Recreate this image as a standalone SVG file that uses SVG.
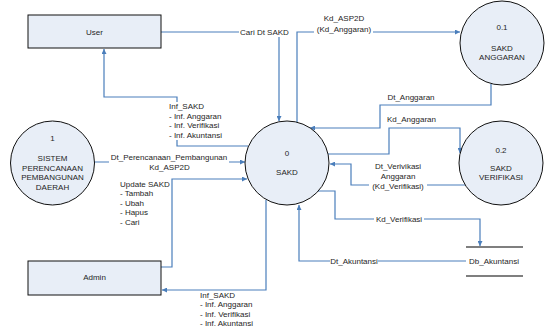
<svg xmlns="http://www.w3.org/2000/svg" width="552" height="327" viewBox="0 0 552 327">
<style>
text{font-family:"Liberation Sans",Arial,sans-serif;font-size:8px;fill:#1e1e1e}
.c{text-anchor:middle}
.node{fill:#e8eef7;stroke:#111;stroke-width:1}
.conn{fill:none;stroke:#4a7ebb;stroke-width:1.2;marker-end:url(#arr)}
.bg{fill:#fff}
.store{stroke:#555;stroke-width:1.5}
</style>
<defs>
<marker id="arr" viewBox="0 0 10 10" refX="10" refY="5" markerWidth="5" markerHeight="5" markerUnits="userSpaceOnUse" orient="auto">
<path d="M0,0 L10,5 L0,10 z" fill="#4a7ebb"/>
</marker>
</defs>
<rect width="552" height="327" fill="#fff"/>
<g id="connectors">
<path class="conn" d="M161,32 H279 V121"/>
<path class="conn" d="M297,122 V32 H460"/>
<path class="conn" d="M491,84 V105 H380 V128 H310"/>
<path class="conn" d="M328,154 H389 V128 H460 V153"/>
<path class="conn" d="M465,185 H351 V164 H330"/>
<path class="conn" d="M318,191 H335 V219 H480 V246"/>
<path class="conn" d="M466,261 H299 V205"/>
<path class="conn" d="M248,146 H177 V97 H104 V49"/>
<path class="conn" d="M94,162 H245"/>
<path class="conn" d="M161,267 H172 V179 H247"/>
<path class="conn" d="M266,200 V290 H162"/>
<g id="labels">
<rect class="bg" x="239" y="28" width="52" height="9"/>
<text x="240" y="35">Cari Dt SAKD</text>
<rect class="bg" x="314" y="13" width="59" height="21"/>
<text class="c" x="344" y="21">Kd_ASP2D</text>
<text class="c" x="344" y="32">(Kd_Anggaran)</text>
<text class="c" x="411" y="100">Dt_Anggaran</text>
<text class="c" x="411.5" y="122">Kd_Anggaran</text>
<rect class="bg" x="369" y="161" width="58" height="29"/>
<text class="c" x="398" y="169">Dt_Verivikasi</text>
<text class="c" x="398" y="179">Anggaran</text>
<text class="c" x="398" y="189">(Kd_Verifikasi)</text>
<rect class="bg" x="374" y="215" width="50" height="9"/>
<text class="c" x="399" y="222">Kd_Verifikasi</text>
<rect class="bg" x="330" y="257" width="48" height="9"/>
<text class="c" x="354" y="264">Dt_Akuntansi</text>
<rect class="bg" x="168" y="102" width="56" height="38"/>
<text x="169" y="109">Inf_SAKD</text>
<text x="169" y="118.5">- Inf. Anggaran</text>
<text x="169" y="128">- Inf. Verifikasi</text>
<text x="169" y="137.5">- Inf. Akuntansi</text>
<rect class="bg" x="109" y="152" width="120" height="19"/>
<text class="c" x="169" y="160">Dt_Perencanaan_Pembangunan</text>
<text class="c" x="169.5" y="170">Kd_ASP2D</text>
<text x="120" y="186.5">Update SAKD</text>
<text x="120" y="196">- Tambah</text>
<text x="120" y="205.5">- Ubah</text>
<text x="120" y="215">- Hapus</text>
<text x="120" y="224.5">- Cari</text>
<text x="200" y="298">Inf_SAKD</text>
<text x="200" y="307.3">- Inf. Anggaran</text>
<text x="200" y="316.6">- Inf. Verifikasi</text>
<text x="200" y="325.9">- Inf. Akuntansi</text>
</g>
</g>
<g id="user">
<rect class="node" x="28" y="15" width="133" height="33"/>
<text class="c" x="94.5" y="34.5">User</text>
</g>
<g id="admin">
<rect class="node" x="28" y="261" width="133" height="34"/>
<text class="c" x="94.5" y="280">Admin</text>
</g>
<g id="p0">
<circle class="node" cx="287" cy="163" r="42"/>
<text class="c" x="287" y="156">0</text>
<text class="c" x="287" y="175">SAKD</text>
</g>
<g id="p1">
<circle class="node" cx="52.5" cy="163" r="42"/>
<text class="c" x="52.5" y="141">1</text>
<text class="c" x="52.5" y="161">SISTEM</text>
<text class="c" x="52.5" y="170.6">PERENCANAAN</text>
<text class="c" x="52.5" y="180.2">PEMBANGUNAN</text>
<text class="c" x="52.5" y="189.8">DAERAH</text>
</g>
<g id="p01">
<circle class="node" cx="502" cy="43" r="42"/>
<text class="c" x="502" y="30">0.1</text>
<text class="c" x="502" y="51">SAKD</text>
<text class="c" x="502" y="60">ANGGARAN</text>
</g>
<g id="p02">
<circle class="node" cx="501" cy="163" r="42"/>
<text class="c" x="501" y="153">0.2</text>
<text class="c" x="501" y="171">SAKD</text>
<text class="c" x="501" y="180">VERIFIKASI</text>
</g>
<g id="db_akuntansi">
<line class="store" x1="466" y1="247" x2="523" y2="247"/>
<line class="store" x1="466" y1="276" x2="523" y2="276"/>
<text class="c" x="494" y="264">Db_Akuntansi</text>
</g>
</svg>
